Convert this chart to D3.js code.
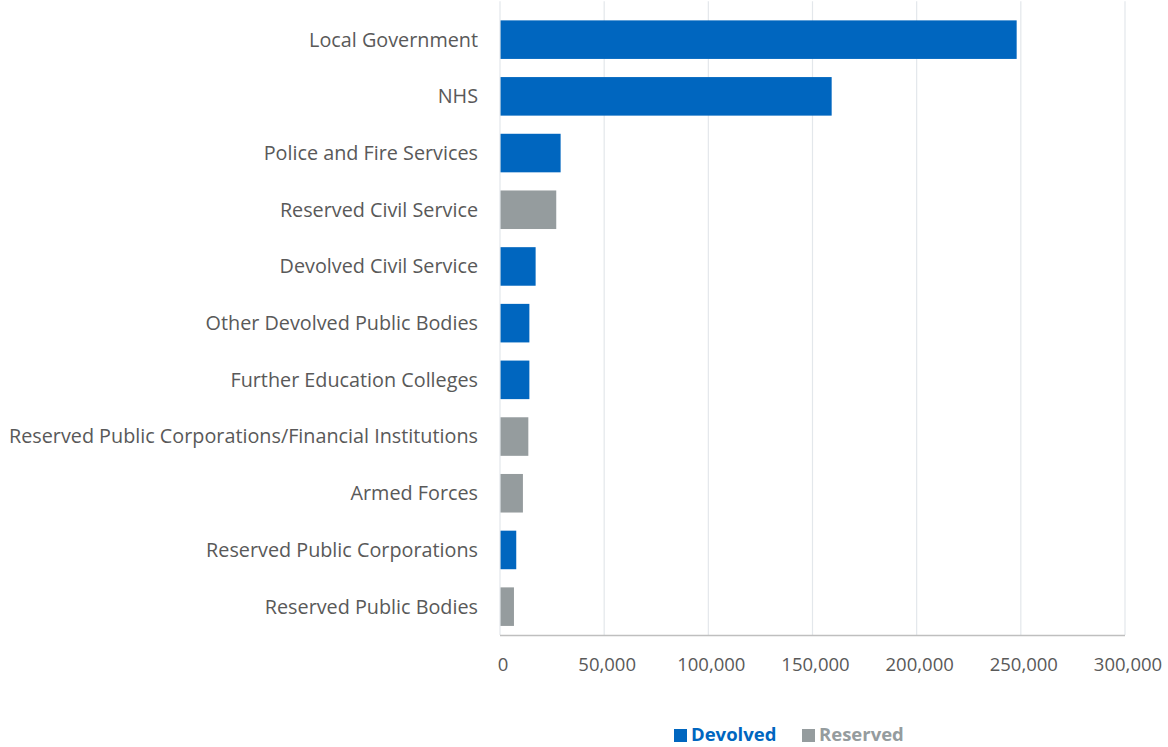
<!DOCTYPE html>
<html>
<head>
<meta charset="utf-8">
<script src="https://cdn.jsdelivr.net/npm/d3@7"></script>
<style>
  html, body { margin: 0; padding: 0; background: #fff; }
  svg { display: block; }
</style>
</head>
<body>
<svg id="chart" width="1168" height="747"></svg>
<script>
const categories = [
  "Local Government",
  "NHS",
  "Police and Fire Services",
  "Reserved Civil Service",
  "Devolved Civil Service",
  "Other Devolved Public Bodies",
  "Further Education Colleges",
  "Reserved Public Corporations/Financial Institutions",
  "Armed Forces",
  "Reserved Public Corporations",
  "Reserved Public Bodies"
];
const values = [248000, 159200, 29100, 27000, 17100, 14100, 14100, 13600, 11000, 7800, 6700];
const groups = ["Devolved", "Devolved", "Devolved", "Reserved", "Devolved", "Devolved", "Devolved", "Reserved", "Reserved", "Devolved", "Reserved"];
const legendLabels = ["Devolved", "Reserved"];
const tickValues = [0, 50000, 100000, 150000, 200000, 250000, 300000];

const colors = { Devolved: "#0066BF", Reserved: "#959C9E" };
const font = "'Open Sans', 'Noto Sans', sans-serif";

const svg = d3.select("#chart");
const margin = { left: 500, right: 43, top: 11.3, bottom: 112 };
const W = 1168, H = 747;

const x = d3.scaleLinear().domain([0, 300000]).range([margin.left, W - margin.right]);
const y = d3.scaleBand().domain(categories).range([margin.top, 635]).paddingInner(0.32).paddingOuter(0.16);

// gridlines
svg.append("g").selectAll("line").data(tickValues.slice(1)).join("line")
  .attr("x1", d => x(d)).attr("x2", d => x(d))
  .attr("y1", margin.top - 10).attr("y2", 635)
  .attr("stroke", "#E3E7EB").attr("stroke-width", 1.2);

// bars
svg.append("g").selectAll("rect").data(categories).join("rect")
  .attr("x", x(0))
  .attr("y", d => y(d))
  .attr("height", y.bandwidth())
  .attr("width", (d, i) => x(values[i]) - x(0))
  .attr("fill", (d, i) => colors[groups[i]]);

// baseline left
svg.append("line").attr("x1", x(0)).attr("x2", x(0)).attr("y1", margin.top - 10).attr("y2", 635)
  .attr("stroke", "#E3E7EB").attr("stroke-width", 1.2);

// x axis line
svg.append("line").attr("x1", x(0)).attr("x2", x(300000)).attr("y1", 635.5).attr("y2", 635.5)
  .attr("stroke", "#BFBFBF").attr("stroke-width", 1.5);

// category labels
svg.append("g").selectAll("text").data(categories).join("text")
  .attr("x", 478)
  .attr("y", d => y(d) + y.bandwidth() / 2)
  .attr("dy", "0.35em")
  .attr("text-anchor", "end")
  .attr("font-family", font)
  .attr("font-size", 19.8)
  .attr("fill", "#595959")
  .text(d => d);

// tick labels
const fmt = d3.format(",");
svg.append("g").selectAll("text").data(tickValues).join("text")
  .attr("x", d => x(d) + 3)
  .attr("y", 665)
  .attr("dy", "0.35em")
  .attr("text-anchor", "middle")
  .attr("font-family", font)
  .attr("font-size", 18.5)
  .attr("fill", "#595959")
  .text(d => fmt(d));

// legend
const lg = svg.append("g");
const legendX = [674, 802];
legendLabels.forEach((lab, i) => {
  const g = lg.append("g").attr("transform", `translate(${legendX[i]},735)`);
  g.append("rect").attr("x", 0).attr("y", -6).attr("width", 13).attr("height", 13).attr("fill", colors[lab]);
  g.append("text").attr("x", 17).attr("y", 0).attr("dy", "0.35em")
    .attr("font-family", font).attr("font-size", 18.5).attr("font-weight", "bold")
    .attr("fill", colors[lab]).text(lab);
});
</script>
</body>
</html>
